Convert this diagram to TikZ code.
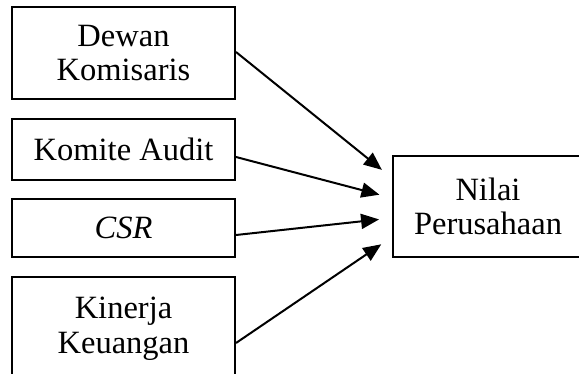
\documentclass[tikz,border=0pt]{standalone}
\usepackage{fontspec}
\setmainfont{Liberation Serif}
\usetikzlibrary{arrows.meta}
\begin{document}
\begin{tikzpicture}[x=1pt,y=-1pt,
  box/.style={draw=black, line width=2pt, fill=white, inner sep=0pt, align=center,
    font=\fontsize{32.5}{34.5}\selectfont},
  link/.style={draw=black, line width=2pt, -{Triangle[length=18pt,width=15pt]}, shorten >=13pt}]
\useasboundingbox (0,0) rectangle (579,373);
\clip (0,0) rectangle (579,373);
\fill[white] (0,0) rectangle (579,373);
\node[box, minimum width=223pt, minimum height=92pt] (dk) at (123.5,53) {Dewan\\Komisaris};
\node[box, minimum width=223pt, minimum height=61pt] (ka) at (123.5,149.5) {Komite Audit};
\node[box, minimum width=223pt, minimum height=58pt] (csr) at (123.5,228) {\itshape CSR};
\node[box, minimum width=223pt, minimum height=103pt] (kk) at (123.5,328.5) {Kinerja\\Keuangan};
\node[box, minimum width=190pt, minimum height=101pt] (np) at (488,206.5) {Nilai\\Perusahaan};
\draw[link] ([yshift=1pt]dk.east) -- ([yshift=28.5pt]np.west);
\draw[link] ([yshift=-7.5pt]ka.east) -- ([yshift=8.5pt]np.west);
\draw[link] ([yshift=-7pt]csr.east) -- ([yshift=-11.5pt]np.west);
\draw[link] ([yshift=-14.5pt]kk.east) -- ([yshift=-30.5pt]np.west);
\end{tikzpicture}
\end{document}
